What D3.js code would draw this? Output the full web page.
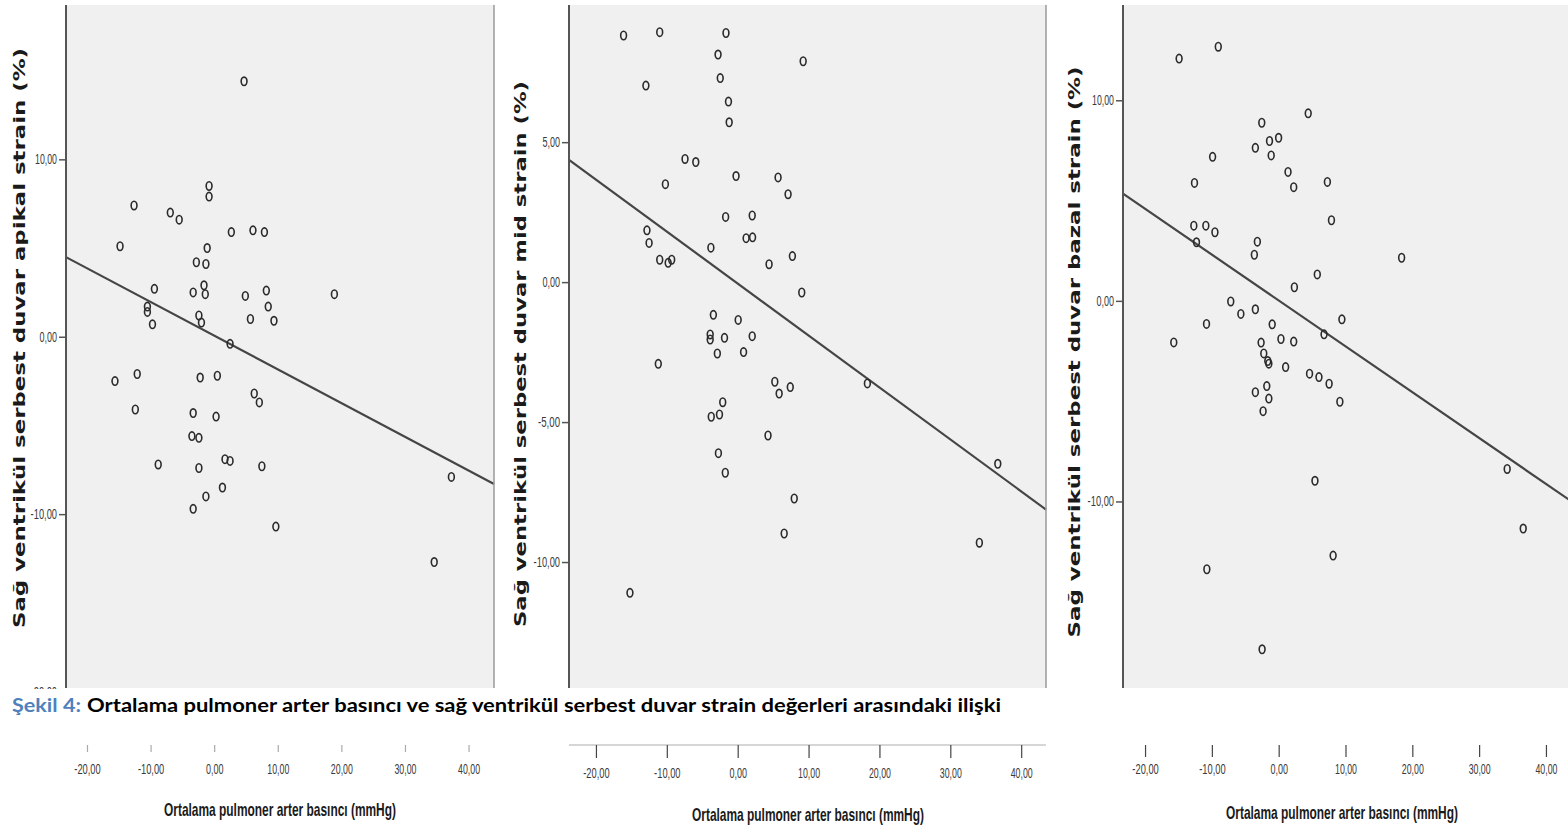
<!DOCTYPE html>
<html>
<head>
<meta charset="utf-8">
<script src="https://cdnjs.cloudflare.com/ajax/libs/d3/7.8.5/d3.min.js"></script>
<style>
  body { margin: 0; background: #fff; }
  svg { display: block; }
</style>
</head>
<body>
<svg id="chart" width="1568" height="834"></svg>
<script>
// tick values
const xTicks = [-20, -10, 0, 10, 20, 30, 40];
const apikalTicks = [-20, -10, 0, 10];
const midTicks = [-10, -5, 0, 5];
const bazalTicks = [-10, 0, 10];

// axis extents
const apikalXExtent = [-23.3, 44.0], apikalYExtent = [-19.8, 18.7];
const midXExtent = [-23.8, 43.5], midYExtent = [-14.5, 9.9];
const bazalXExtent = [-23.3, 43.9], bazalYExtent = [-19.3, 14.75];

// [mPAP, strain]
const apikalPoints = [
  [4.7, 14.4], [-12.6, 7.4], [-6.9, 7.0], [-5.5, 6.6], [-0.8, 8.5], [-0.8, 7.9],
  [-14.8, 5.1], [2.7, 5.9], [6.1, 6.0], [7.9, 5.9], [-1.1, 5.0], [-2.8, 4.2],
  [-1.3, 4.1], [-9.4, 2.7], [-3.3, 2.5], [-1.6, 2.9], [-1.4, 2.4], [4.9, 2.3],
  [8.2, 2.6], [8.5, 1.7], [18.9, 2.4], [-10.5, 1.7], [-10.5, 1.4], [-9.7, 0.7],
  [-2.4, 1.2], [-2.0, 0.8], [5.7, 1.0], [9.4, 0.9], [2.5, -0.4], [-15.6, -2.5],
  [-12.1, -2.1], [-12.4, -4.1], [-2.2, -2.3], [0.5, -2.2], [6.3, -3.2], [7.1, -3.7],
  [-3.3, -4.3], [0.3, -4.5], [-3.5, -5.6], [-2.4, -5.7], [-8.8, -7.2], [1.7, -6.9],
  [2.5, -7.0], [7.5, -7.3], [-2.4, -7.4], [1.3, -8.5], [-1.3, -9.0], [-3.3, -9.7],
  [9.7, -10.7], [37.3, -7.9], [34.6, -12.7]
];
const midPoints = [
  [-16.1, 8.81], [-11.0, 8.93], [-1.65, 8.90], [-2.77, 8.13], [-2.46, 7.29], [9.24, 7.89],
  [-12.95, 7.02], [-1.3, 6.45], [-1.2, 5.71], [-7.43, 4.40], [-5.91, 4.29], [-10.2, 3.50],
  [-0.23, 3.79], [5.7, 3.74], [7.11, 3.14], [-1.7, 2.33], [2.05, 2.38], [-12.8, 1.85],
  [-12.5, 1.40], [1.19, 1.57], [2.1, 1.60], [-3.78, 1.23], [-11.0, 0.80], [-9.81, 0.69],
  [-9.31, 0.80], [4.43, 0.64], [7.72, 0.93], [9.04, -0.37], [-3.43, -1.17], [0.07, -1.35],
  [-3.88, -1.87], [-3.88, -2.05], [-1.86, -1.99], [2.05, -1.93], [-2.87, -2.55], [0.83, -2.50],
  [-11.2, -2.92], [5.24, -3.56], [5.85, -3.98], [7.42, -3.75], [18.3, -3.62], [-2.11, -4.29],
  [-3.73, -4.81], [-2.57, -4.73], [4.28, -5.48], [-2.72, -6.11], [-1.75, -6.81], [7.98, -7.73],
  [6.56, -8.98], [34.1, -9.31], [36.7, -6.49], [-15.2, -11.10]
];
const bazalPoints = [
  [-14.9, 12.08], [-9.04, 12.67], [4.42, 9.35], [-2.53, 8.88], [-1.37, 7.97], [-0.01, 8.13],
  [-1.12, 7.25], [-3.49, 7.63], [-9.89, 7.18], [1.4, 6.43], [2.25, 5.67], [7.29, 5.93],
  [-12.6, 5.88], [7.9, 4.02], [-12.7, 3.75], [-10.9, 3.75], [-9.54, 3.42], [-12.3, 2.92],
  [-3.19, 2.95], [-3.64, 2.30], [18.4, 2.15], [5.78, 1.32], [2.35, 0.68], [-7.17, -0.03],
  [-5.66, -0.65], [-3.49, -0.42], [-10.8, -1.15], [-0.97, -1.17], [9.46, -0.92], [6.79, -1.67],
  [0.34, -1.90], [2.25, -2.03], [-15.7, -2.07], [-2.63, -2.08], [-2.23, -2.62], [-1.63, -3.0],
  [-1.47, -3.13], [1.04, -3.30], [4.62, -3.63], [6.03, -3.80], [7.55, -4.13], [9.16, -5.03],
  [-3.49, -4.55], [-1.78, -4.25], [-1.47, -4.87], [-2.33, -5.50], [5.43, -8.97], [34.2, -8.38],
  [36.6, -11.35], [8.15, -12.7], [-10.75, -13.38], [-2.48, -17.37]
];

// regression fits: [intercept, slope]
const apikalFit = [0.06, -0.19];
const midFit = [-0.05, -0.1856];
const bazalFit = [0.02, -0.2286];

const yTitles = [
  "Sağ ventrikül serbest duvar apikal strain (%)",
  "Sağ ventrikül serbest duvar mid strain (%)",
  "Sağ ventrikül serbest duvar bazal strain (%)"
];
const xTitle = "Ortalama pulmoner arter basıncı (mmHg)";
const captionLabel = "Şekil 4:";
const captionText = "Ortalama pulmoner arter basıncı ve sağ ventrikül serbest duvar strain değerleri arasındaki ilişki";

const panels = [
  { points: apikalPoints, fit: apikalFit, yTicks: apikalTicks, xExt: apikalXExtent, yExt: apikalYExtent,
    left: 66, right: 494, border: true, titleX: 20, titleY: 338, titleLen: 580,
    xTitleX: 280, xTitleY: 816, stripTick: 7, labelGap: 19, stripColor: "#aaa", stripLine: false },
  { points: midPoints, fit: midFit, yTicks: midTicks, xExt: midXExtent, yExt: midYExtent,
    left: 569, right: 1046, border: true, titleX: 521, titleY: 354, titleLen: 546,
    xTitleX: 808, xTitleY: 821, stripTick: 13, labelGap: 23, stripColor: "#444", stripLine: true },
  { points: bazalPoints, fit: bazalFit, yTicks: bazalTicks, xExt: bazalXExtent, yExt: bazalYExtent,
    left: 1123, right: 1572, border: false, titleX: 1075, titleY: 352, titleLen: 571,
    xTitleX: 1342, xTitleY: 819, stripTick: 12, labelGap: 19, stripColor: "#444", stripLine: false }
];

const plotTop = 5, plotBottom = 688;
const fmt = d => d.toFixed(2).replace(".", ",");
const svg = d3.select("#chart");

svg.append("defs").append("clipPath").attr("id", "topClip")
  .append("rect").attr("x", 0).attr("y", 0).attr("width", 1568).attr("height", 689);

const plots = svg.append("g").attr("clip-path", "url(#topClip)");

function fitLabels(sel, perChar) {
  sel.selectAll("text")
    .attr("textLength", function () { return this.textContent.length * perChar; })
    .attr("lengthAdjust", "spacingAndGlyphs");
}

panels.forEach((p, i) => {
  const x = d3.scaleLinear().domain(p.xExt).range([p.left, p.right]);
  const y = d3.scaleLinear().domain(p.yExt).range([plotBottom, plotTop]);

  const g = plots.append("g");

  g.append("rect")
    .attr("x", p.left).attr("y", plotTop)
    .attr("width", p.right - p.left).attr("height", plotBottom - plotTop)
    .attr("fill", "#f0f0f0");

  // fit line
  const lineX = p.xExt;
  g.append("line")
    .attr("x1", x(lineX[0])).attr("y1", y(p.fit[0] + p.fit[1] * lineX[0]))
    .attr("x2", x(lineX[1])).attr("y2", y(p.fit[0] + p.fit[1] * lineX[1]))
    .attr("stroke", "#454545").attr("stroke-width", 2.2);

  g.selectAll("ellipse")
    .data(p.points)
    .enter()
    .append("ellipse")
    .attr("cx", d => x(d[0]))
    .attr("cy", d => y(d[1]))
    .attr("rx", 2.9)
    .attr("ry", 4.2)
    .attr("fill", "none")
    .attr("stroke", "#2b2b2b")
    .attr("stroke-width", 1.6);

  // y axis
  const ya = g.append("g")
    .attr("transform", "translate(" + p.left + ",0)")
    .call(d3.axisLeft(y).tickValues(p.yTicks).tickSize(7).tickPadding(2).tickFormat(fmt));
  ya.select(".domain").remove();
  ya.selectAll("line").attr("stroke", "#555").attr("stroke-width", 1.5);
  ya.selectAll("text").attr("font-family", "Liberation Sans, Arial, sans-serif")
    .attr("font-size", 14).attr("fill", "#3a3a3a");
  fitLabels(ya, 4.4);

  g.append("line")
    .attr("x1", p.left).attr("x2", p.left).attr("y1", plotTop).attr("y2", plotBottom)
    .attr("stroke", "#555").attr("stroke-width", 2);

  if (p.border) {
    g.append("line")
      .attr("x1", p.right).attr("x2", p.right).attr("y1", plotTop).attr("y2", plotBottom)
      .attr("stroke", "#9a9a9a").attr("stroke-width", 1.5);
  }

  g.append("text")
    .attr("transform", "translate(" + p.titleX + "," + p.titleY + ") rotate(-90)")
    .attr("text-anchor", "middle")
    .attr("dy", "0.35em")
    .attr("font-family", "DejaVu Sans, sans-serif")
    .attr("font-weight", "bold")
    .attr("font-size", 15)
    .attr("fill", "#1a1a1a")
    .attr("textLength", p.titleLen)
    .attr("lengthAdjust", "spacingAndGlyphs")
    .text(yTitles[i]);

  // detached x axis strip below the caption
  const strip = svg.append("g");
  if (p.stripLine) {
    strip.append("line")
      .attr("x1", p.left).attr("x2", p.right).attr("y1", 745).attr("y2", 745)
      .attr("stroke", "#c8c8c8").attr("stroke-width", 1.5);
  }
  const xa = strip.append("g")
    .attr("transform", "translate(0,745)")
    .call(d3.axisBottom(x).tickValues(xTicks).tickSize(p.stripTick)
      .tickPadding(p.labelGap - p.stripTick).tickFormat(fmt));
  xa.select(".domain").remove();
  xa.selectAll("line").attr("stroke", p.stripColor).attr("stroke-width", 1.2);
  xa.selectAll("text").attr("font-family", "Liberation Sans, Arial, sans-serif")
    .attr("font-size", 14).attr("fill", "#3a3a3a");
  fitLabels(xa, 4.4);

  strip.append("text")
    .attr("x", p.xTitleX).attr("y", p.xTitleY)
    .attr("text-anchor", "middle")
    .attr("font-family", "Liberation Sans, Arial, sans-serif")
    .attr("font-weight", "bold")
    .attr("font-size", 19)
    .attr("fill", "#1a1a1a")
    .attr("textLength", 232)
    .attr("lengthAdjust", "spacingAndGlyphs")
    .text(xTitle);
});

// caption
svg.append("text")
  .attr("x", 12).attr("y", 712)
  .attr("font-family", "Lato, sans-serif").attr("font-weight", "bold").attr("font-size", 19)
  .attr("fill", "#4f81bd")
  .attr("textLength", 69).attr("lengthAdjust", "spacingAndGlyphs")
  .text(captionLabel);
svg.append("text")
  .attr("x", 87).attr("y", 712)
  .attr("font-family", "Lato, sans-serif").attr("font-weight", "bold").attr("font-size", 19)
  .attr("fill", "#000")
  .attr("textLength", 914).attr("lengthAdjust", "spacingAndGlyphs")
  .text(captionText);
</script>
</body>
</html>
